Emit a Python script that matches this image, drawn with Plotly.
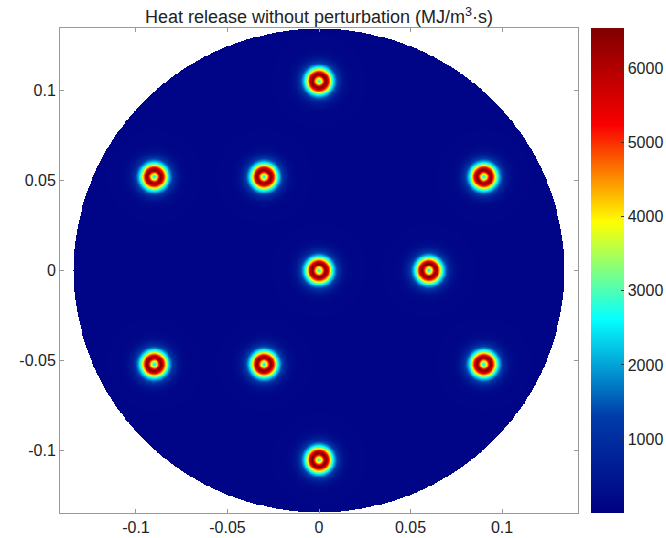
import numpy as np
import plotly.graph_objects as go

# Burner (flame) centre positions, m
burner_x = [0.0, -0.09, -0.03, 0.09, 0.0, 0.06, -0.09, -0.03, 0.09, 0.0]
burner_y = [0.105, 0.052, 0.052, 0.052, 0.0, 0.0, -0.052, -0.052, -0.052, -0.105]

# Flame ring profile values
peak_value = 6550.0        # dark red ring
ring_radius = 0.0036       # m
inner_width = 0.0036       # m
inner_power = 1.0
outer_width = 0.0043       # m
outer_power = 1.37
background_value = 120.0   # domain background (dark blue)
domain_radius = 0.134      # m

tick_vals = [-0.1, -0.05, 0, 0.05, 0.1]
tick_text = ["-0.1", "-0.05", "0", "0.05", "0.1"]
cbar_ticks = [1000, 2000, 3000, 4000, 5000, 6000]
cbar_min, cbar_max = 0, 6550

xr = (-0.1415, 0.1415)
yr = (-0.1345, 0.1345)

gx = np.arange(xr[0], xr[1] + 1e-9, 0.0005)
gy = np.arange(yr[0], yr[1] + 1e-9, 0.0005)
X, Y = np.meshgrid(gx, gy)
Z = np.full(X.shape, background_value)
for bx, by in zip(burner_x, burner_y):
    r = np.hypot(X - bx, Y - by)
    d = np.abs(r - ring_radius)
    inner = np.exp(-(d / inner_width) ** inner_power)
    outer = np.exp(-(d / outer_width) ** outer_power)
    Z = Z + peak_value * np.where(r < ring_radius, inner, outer)
Z = np.clip(np.round(Z), cbar_min, cbar_max)
Z[np.hypot(X, Y) > domain_radius] = np.nan

fig = go.Figure(go.Heatmap(
    x=np.round(gx, 5), y=np.round(gy, 5), z=Z,
    colorscale="Jet", zmin=cbar_min, zmax=cbar_max,
    zsmooth=False, hoverinfo="skip",
    colorbar=dict(
        x=1.025, xanchor="left", y=0, yanchor="bottom", len=1, lenmode="fraction",
        thickness=33, outlinewidth=0, xpad=0, ypad=0,
        tickvals=cbar_ticks, ticks="inside", ticklen=3, tickcolor="#333",
        tickfont=dict(family="Liberation Sans, Arial", size=16, color="#222"),
    ),
))

axis_common = dict(
    showgrid=False, zeroline=False, showline=True, linecolor="#999", linewidth=1,
    mirror="ticks", ticks="inside", ticklen=4, tickcolor="#999",
    tickvals=tick_vals, ticktext=tick_text,
    tickfont=dict(family="Liberation Sans, Arial", size=16, color="#222"),
)
fig.update_xaxes(range=list(xr), **axis_common)
fig.update_yaxes(range=list(yr), **axis_common)

fig.update_layout(
    width=666, height=538,
    margin=dict(l=60, r=88, t=28, b=25, autoexpand=False),
    paper_bgcolor="white", plot_bgcolor="white",
    title=dict(text="Heat release without perturbation (MJ/m<sup>3</sup>·s)",
               x=(60 + 259) / 666, xanchor="center", y=1 - 17 / 538, yanchor="middle",
               font=dict(family="Liberation Sans, Arial", size=18, color="#222")),
)
fig.write_html("out.html")
